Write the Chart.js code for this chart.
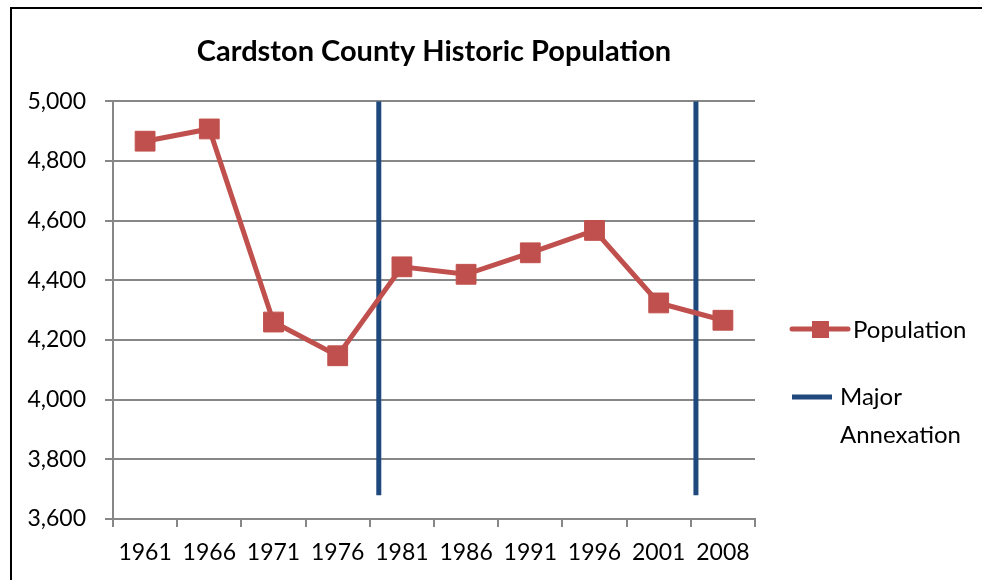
<!DOCTYPE html>
<html lang="en">
    <head>
        <meta charset="UTF-8" />
        <title>Cardston County Historic Population</title>
        <script src="https://cdn.jsdelivr.net/npm/chart.js@4.4.1/dist/chart.umd.min.js"></script>
    </head>
    <style>
        html, body {
            margin: 0;
            padding: 0;
            background: #fff;
        }
        div.main {
            position: relative;
            width: 982px;
            height: 580px;
            overflow: hidden;
        }
        div.frame {
            position: absolute;
            left: 10px;
            top: 7px;
            width: 1000px;
            height: 600px;
            border-left: 2px solid #000;
            border-top: 2px solid #000;
        }
        canvas {
            position: absolute;
            left: 0;
            top: 0;
        }
    </style>

    <body>
        <div class="main">
            <div class="frame"></div>
            <canvas id="myChart"></canvas>
        </div>

        <script>
            const years = ["1961", "1966", "1971", "1976", "1981", "1986", "1991", "1996", "2001", "2008"];
            const population = [4866, 4907, 4260, 4147, 4445, 4420, 4492, 4567, 4324, 4266];
            // annexations sit between census years (position in category units)
            const annexAt = [3.64, 8.58];
            const annexBottom = 3680;
            const annexTop = 5000;
            const yMin = 3600;
            const yMax = 5000;
            const yStep = 200;

            const red = "#C0504D";
            const blue = "#1F497D";
            const grid = "#878787";
            const font = "Lato, 'Open Sans', sans-serif";
            const narrow = "'Liberation Sans Narrow', Lato, sans-serif";

            const annexData = [];
            annexAt.forEach((a) => {
                annexData.push({ x: a, y: annexBottom });
                annexData.push({ x: a, y: annexTop });
                annexData.push({ x: a, y: null });
            });

            // legend drawn by hand: Excel style, with a wrapped second label
            const legendPlugin = {
                id: "sideLegend",
                afterDraw(chart) {
                    const ctx = chart.ctx;
                    const x0 = chart.chartArea.right + 37;
                    ctx.save();
                    ctx.font = "24px " + font;
                    ctx.textBaseline = "middle";

                    ctx.strokeStyle = red;
                    ctx.lineWidth = 5;
                    ctx.lineCap = "round";
                    ctx.beginPath();
                    ctx.moveTo(x0, 329);
                    ctx.lineTo(x0 + 56, 329);
                    ctx.stroke();
                    ctx.fillStyle = red;
                    ctx.fillRect(x0 + 20, 321, 17, 17);
                    ctx.fillStyle = "#000";
                    ctx.fillText("Population", x0 + 61, 330);

                    ctx.strokeStyle = blue;
                    ctx.lineCap = "butt";
                    ctx.beginPath();
                    ctx.moveTo(x0, 397);
                    ctx.lineTo(x0 + 40, 397);
                    ctx.stroke();
                    ctx.fillText("Major", x0 + 48, 397);
                    ctx.fillText("Annexation", x0 + 48, 435);
                    ctx.restore();
                },
            };

            const ctx = document.getElementById("myChart").getContext("2d");
            const myChart = new Chart(ctx, {
                type: "line",
                data: {
                    labels: years,
                    datasets: [
                        {
                            label: "Population",
                            data: population,
                            borderColor: red,
                            backgroundColor: red,
                            borderWidth: 5,
                            pointStyle: "rect",
                            pointRadius: 14,
                            pointBorderWidth: 1,
                            pointBorderColor: red,
                            pointBackgroundColor: red,
                            tension: 0,
                            xAxisID: "x",
                        },
                        {
                            label: "Major Annexation",
                            data: annexData,
                            borderColor: blue,
                            backgroundColor: blue,
                            borderWidth: 5,
                            borderCapStyle: "butt",
                            pointRadius: 0,
                            spanGaps: false,
                            xAxisID: "xa",
                        },
                    ],
                },
                options: {
                    responsive: true,
                    maintainAspectRatio: false,
                    animation: false,
                    layout: {
                        padding: { left: 14, right: 227, top: 0, bottom: 0 },
                    },
                    plugins: {
                        legend: { display: false },
                        tooltip: { enabled: false },
                        title: {
                            display: true,
                            text: "Cardston County Historic Population",
                            fullSize: false,
                            color: "#000",
                            font: { family: font, size: 29, weight: "bold", lineHeight: 1.2 },
                            padding: { top: 34, bottom: 32.4 },
                        },
                    },
                    scales: {
                        x: {
                            type: "category",
                            offset: true,
                            afterFit: (scale) => {
                                scale.height = 61;
                            },
                            grid: {
                                offset: true,
                                drawOnChartArea: false,
                                color: grid,
                                lineWidth: 2,
                                tickLength: 8,
                            },
                            border: { color: grid, width: 2 },
                            ticks: {
                                color: "#000",
                                padding: 12,
                                maxRotation: 0,
                                font: { family: narrow, size: 23 },
                            },
                        },
                        xa: {
                            type: "linear",
                            display: false,
                            min: -0.5,
                            max: years.length - 0.5,
                        },
                        y: {
                            min: yMin,
                            max: yMax,
                            afterFit: (scale) => {
                                scale.width = 99;
                            },
                            grid: {
                                color: grid,
                                lineWidth: 2,
                                tickLength: 8,
                            },
                            border: { color: grid, width: 2 },
                            ticks: {
                                stepSize: yStep,
                                color: "#000",
                                padding: 19,
                                font: { family: font, size: 23 },
                                callback: (v) => v.toLocaleString("en-US"),
                            },
                        },
                    },
                },
                plugins: [legendPlugin],
            });
        </script>
    </body>
</html>
